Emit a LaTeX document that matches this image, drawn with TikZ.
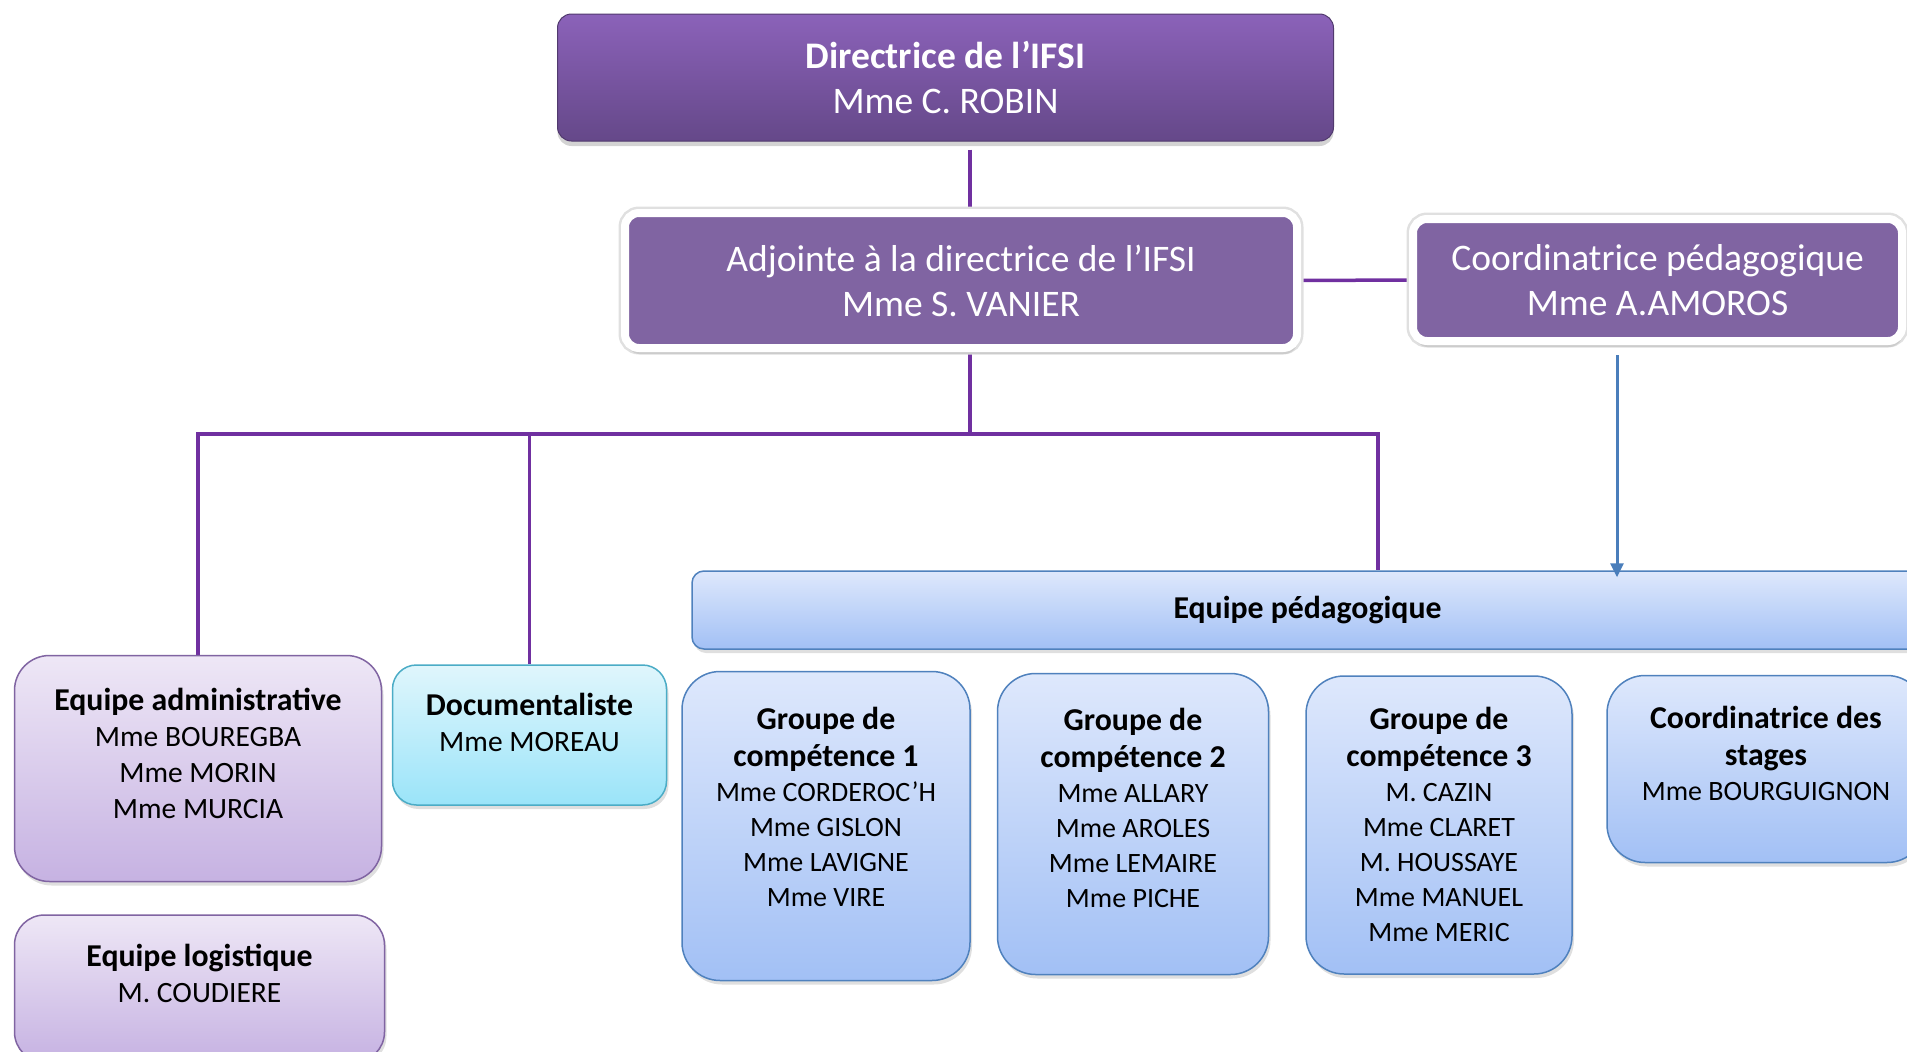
\documentclass[tikz,border=0pt]{standalone}
\usepackage{fontspec}
\setmainfont{Carlito}
\usetikzlibrary{arrows.meta,shadows,backgrounds}

\definecolor{dirtop}{HTML}{8B62B9}
\definecolor{dirbot}{HTML}{654889}
\definecolor{adjfill}{HTML}{8064A2}
\definecolor{lineviolet}{HTML}{7030A0}
\definecolor{arrowblue}{HTML}{4A7EBB}
\definecolor{lavtop}{HTML}{EEE7F6}
\definecolor{lavbot}{HTML}{C6B2E2}
\definecolor{lavline}{HTML}{8064A2}
\definecolor{cyantop}{HTML}{E0F6FC}
\definecolor{cyanbot}{HTML}{9AE4F9}
\definecolor{cyanline}{HTML}{4BACC6}
\definecolor{bluetop}{HTML}{DEE8FC}
\definecolor{bluebot}{HTML}{A2C0F5}
\definecolor{blueline}{HTML}{4F81BD}

\newcommand{\tete}[1]{{\bfseries\fontsize{31.8}{38}\selectfont #1}}

\tikzset{
  topbox/.style={inner sep=0pt, align=center, text=white, rounded corners=14pt,
    font=\fontsize{37.5}{45}\selectfont},
  dirbox/.style={topbox, draw=dirbot!80!black, line width=1pt, top color=dirtop, bottom color=dirbot,
    drop shadow={opacity=.35, shadow xshift=0pt, shadow yshift=-5pt}},
  adjbox/.style={topbox, fill=adjfill, draw=white, line width=8pt,
    preaction={draw=black!12, line width=13pt},
    drop shadow={opacity=.2, shadow xshift=1pt, shadow yshift=-6pt}},
  lowbox/.style={inner sep=0pt, align=center, line width=1.5pt,
    font=\fontsize{28}{35}\selectfont,
    drop shadow={opacity=.25, shadow xshift=2pt, shadow yshift=-4pt}},
  lavbox/.style={lowbox, draw=lavline, top color=lavtop, bottom color=lavbot,
    font=\fontsize{29.5}{36}\selectfont},
  cyanbox/.style={lowbox, draw=cyanline, top color=cyantop, bottom color=cyanbot,
    font=\fontsize{29.5}{36}\selectfont},
  bluebox/.style={lowbox, draw=blueline, top color=bluetop, bottom color=bluebot},
  orgline/.style={draw=lineviolet, line width=3.5pt},
  bluearrow/.style={draw=arrowblue, line width=3pt, -{Triangle[length=14pt, width=13pt]}}
}

\begin{document}
\begin{tikzpicture}[x=1pt, y=-1pt]
\useasboundingbox (0,0) rectangle (1907,1052);

% direction
\node[dirbox, minimum width=776pt, minimum height=127pt] (dir) at (945.5,77.5)
  {\textbf{Directrice de l’IFSI}\\Mme C. ROBIN};
\node[adjbox, minimum width=672pt, minimum height=135pt] (adj) at (961,280.5)
  {Adjointe à la directrice de l’IFSI\\Mme S. VANIER};
\node[adjbox, minimum width=489pt, minimum height=122pt] (coord) at (1657.5,280)
  {Coordinatrice pédagogique\\Mme A.AMOROS};

% equipes
\node[bluebox, rounded corners=12pt, minimum width=1231pt, minimum height=78pt,
  font=\bfseries\fontsize{31.8}{38}\selectfont] (peda) at (1307.5,610) {Equipe pédagogique};
\node[lavbox, rounded corners=35pt, minimum width=367pt, minimum height=226pt, text depth=31pt]
  (admin) at (198,768.5) {\tete{Equipe administrative}\\Mme BOUREGBA\\Mme MORIN\\Mme MURCIA};
\node[lavbox, rounded corners=30pt, minimum width=370pt, minimum height=147pt, text depth=31pt]
  (logi) at (199.5,988.5) {\tete{Equipe logistique}\\M. COUDIERE};
\node[cyanbox, rounded corners=24pt, minimum width=274pt, minimum height=140pt, text depth=26pt]
  (doc) at (529.5,735) {\tete{Documentaliste}\\Mme MOREAU};
\node[bluebox, rounded corners=38pt, minimum width=288pt, minimum height=309pt, text depth=38pt]
  (grp1) at (826,826) {\tete{Groupe de}\\[2pt]\tete{compétence 1}\\Mme CORDEROC’H\\Mme GISLON\\Mme LAVIGNE\\Mme VIRE};
\node[bluebox, rounded corners=38pt, minimum width=271pt, minimum height=301pt, text depth=32pt]
  (grp2) at (1133,824) {\tete{Groupe de}\\[2pt]\tete{compétence 2}\\Mme ALLARY\\Mme AROLES\\Mme LEMAIRE\\Mme PICHE};
\node[bluebox, rounded corners=38pt, minimum width=266pt, minimum height=298pt, text depth=2pt]
  (grp3) at (1439,825) {\tete{Groupe de}\\[2pt]\tete{compétence 3}\\M. CAZIN\\Mme CLARET\\M. HOUSSAYE\\Mme MANUEL\\Mme MERIC};
\node[bluebox, rounded corners=38pt, minimum width=318pt, minimum height=187pt, text depth=31pt]
  (stages) at (1766,769) {\tete{Coordinatrice des}\\[2pt]\tete{stages}\\Mme BOURGUIGNON};

% liaisons
\coordinate (spine) at (970,434);
\coordinate (drop) at (1378,434);
\coordinate (arr) at (1617,434);
\begin{scope}[on background layer]
  \draw[orgline, shorten <=8pt] (dir.south -| spine) -- (adj.north -| spine);
  \draw[orgline] (adj.east) -- (coord.west);
  \draw[orgline] (adj.south -| spine) -- (spine);
  \draw[orgline] (admin.north) |- (drop) -- (peda.north -| drop);
  \draw[orgline] (doc.north) -- (doc.north |- spine);
\end{scope}
\draw[bluearrow, shorten <=10pt, shorten >=-7pt] (coord.south -| arr) -- (peda.north -| arr);
\end{tikzpicture}
\end{document}
